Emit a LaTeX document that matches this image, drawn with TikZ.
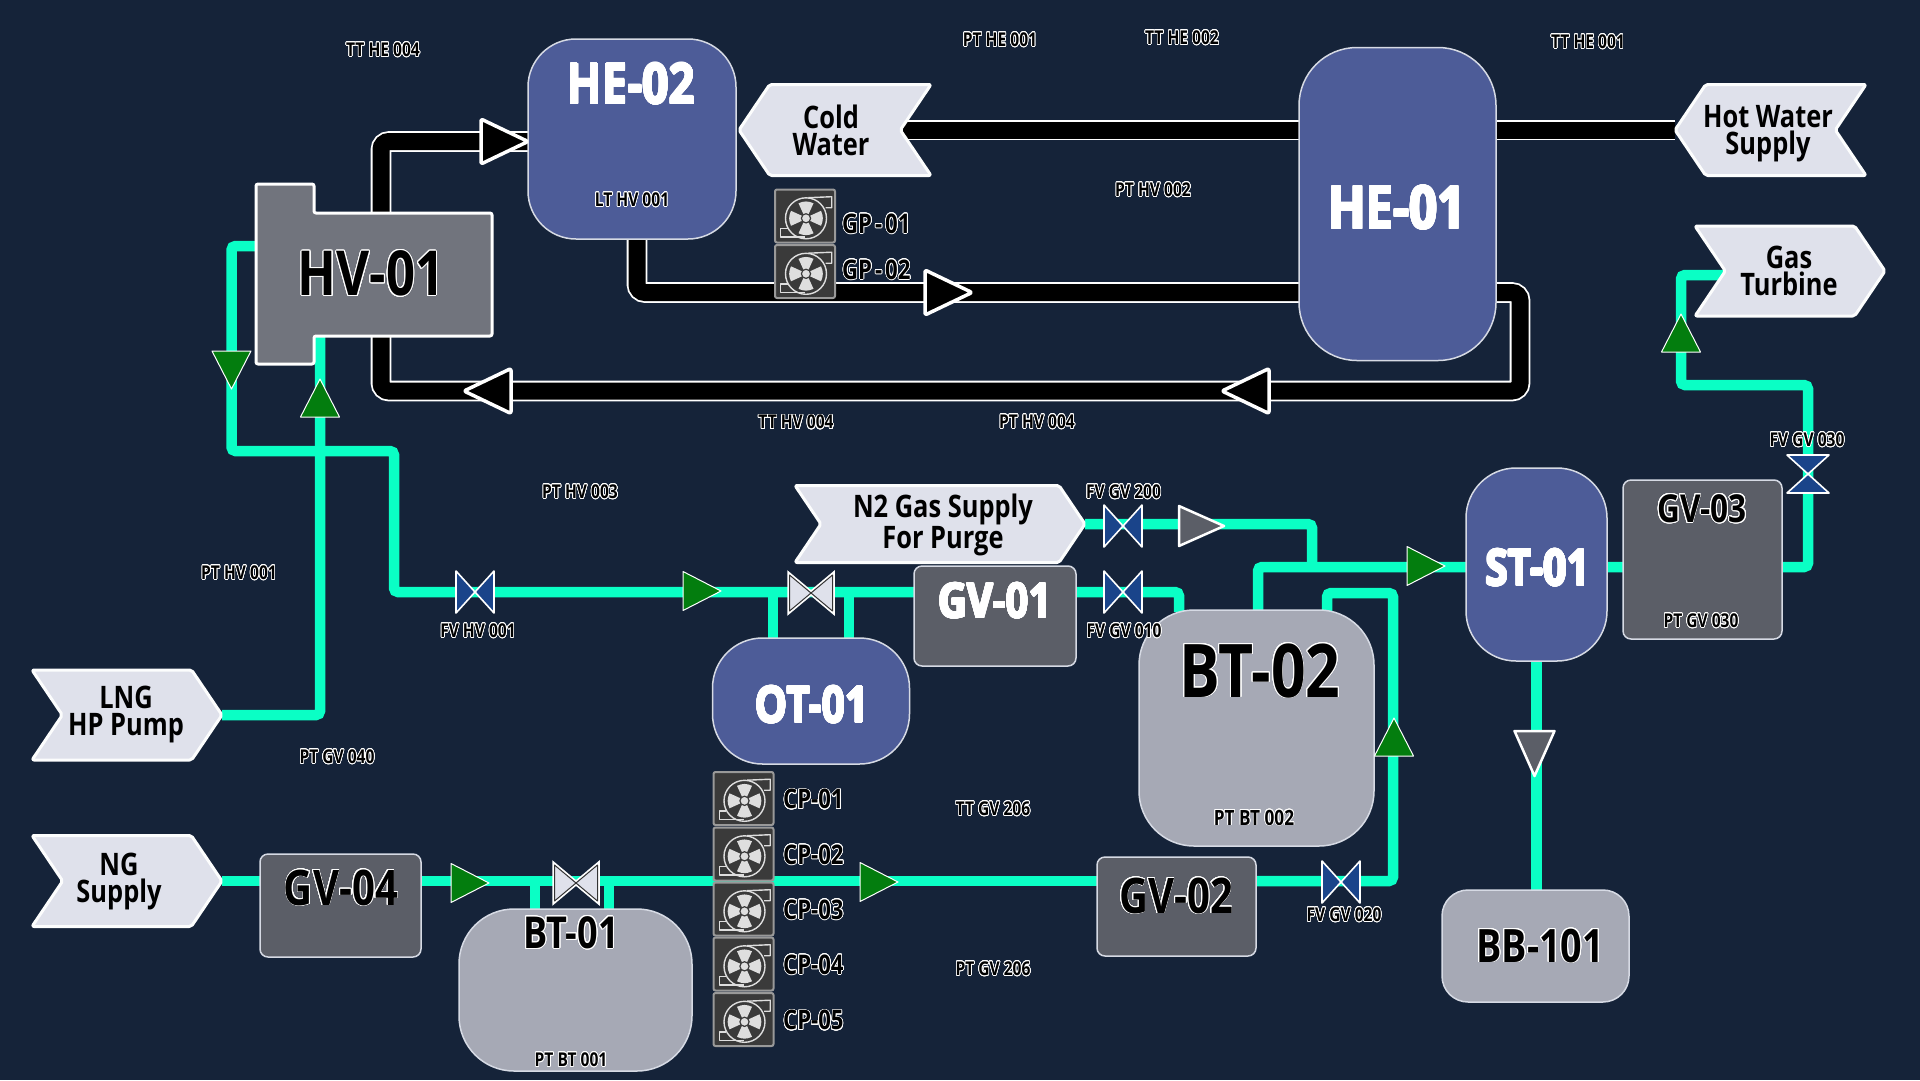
\documentclass[tikz,border=0pt]{standalone}
\usepackage{fontspec}
\setmainfont[FakeStretch=0.82]{Open Sans}
\usepackage{contour}
\contourlength{0.9pt}
\contournumber{24}
\usetikzlibrary{shapes.symbols,positioning,backgrounds}
\definecolor{panel}{RGB}{21,35,57}
\definecolor{vessel}{RGB}{77,92,152}
\definecolor{drum}{RGB}{166,169,181}
\definecolor{slate}{RGB}{91,94,103}
\definecolor{heater}{RGB}{113,116,125}
\definecolor{paper}{RGB}{223,225,235}
\definecolor{gasline}{RGB}{10,255,197}
\definecolor{flowgreen}{RGB}{3,125,14}
\definecolor{valveblue}{RGB}{26,68,138}
\definecolor{edge}{RGB}{214,218,228}
\definecolor{fanbody}{RGB}{58,58,58}
\definecolor{fanline}{RGB}{222,222,222}
\newcommand{\halo}[1]{\contourlength{0.9pt}\contour{white}{#1}}
\newcommand{\thinhalo}[1]{\contourlength{0.7pt}\contour{white}{#1}}
\tikzset{
    tank/.style={draw=edge, line width=1.5pt, rectangle, outer sep=0pt, inner sep=0pt},
    title/.style={font=\bfseries\fontsize{#1}{#1}\selectfont, inner sep=0pt},
    tag/.style={font=\bfseries\fontsize{#1}{#1}\selectfont, inner sep=0pt, text=black},
    tag/.default=19,
    offpage/.style={signal, fill=paper, draw=white!92!paper, line width=3pt, line join=round,
        rounded corners=2pt, inner sep=0pt, outer sep=0pt,
        signal pointer angle=112},
    offtext/.style={align=center, inner sep=0pt, text=black,
        font=\bfseries\fontsize{31}{27}\selectfont},
    waterpipe/.style={draw=white, line width=1.8pt, double=black, double distance=17pt, rounded corners=8pt},
    gaspipe/.style={draw=gasline, line width=10.5pt, rounded corners=4pt},
    fanbox/.style={draw=black!0!gray!80!white, fill=fanbody, line width=2pt, rounded corners=2pt,
        minimum width=60pt, minimum height=53pt, inner sep=0pt, outer sep=0pt},
    pics/fanicon/.style={code={
        \draw[fanline, line width=1.4pt] (1,2.3) circle (20.5);
        \foreach \ang in {0,90,180,270}
            \fill[fanline, shift={(1,2.3)}, rotate=\ang] (-2.5,-4) -- (-7.5,-15) to[bend left=25] (7.5,-15) -- (2.5,-4) -- cycle;
        \filldraw[draw=fanbody, fill=fanline, line width=1.2pt] (1,2.3) circle (4.6);
        \draw[fanline, line width=1.4pt, line join=round] (3.3,-18.3) -- (26.7,-19.3) -- (26.7,-8.3) -- (20.7,-8.3);
        \draw[fanline, line width=1.4pt, line join=round] (0,21) -- (-24.3,21) -- (-24.3,12.3) -- (-17.3,12.3);
    }},
}
\begin{document}
\begin{tikzpicture}[x=1pt,y=-1pt]
    \useasboundingbox (0,0) rectangle (1920,1080);

    % Vessels
    \node[tank, fill=vessel, rounded corners=48pt, minimum width=208pt, minimum height=200pt] (HE02) at (632,139) {};
    \node[tank, fill=vessel, rounded corners=58pt, minimum width=197pt, minimum height=313pt] (HE01) at (1397.5,204) {};
    \node[tank, fill=vessel, rounded corners=50pt, minimum width=141pt, minimum height=193pt] (ST01) at (1536.5,564.5) {};
    \node[tank, fill=vessel, rounded corners=50pt, minimum width=197pt, minimum height=126pt] (OT01) at (811,701) {};
    \node[tank, fill=drum, rounded corners=55pt, minimum width=233pt, minimum height=162pt] (BT01) at (575.5,990) {};
    \node[tank, fill=drum, rounded corners=55pt, minimum width=235pt, minimum height=236pt] (BT02) at (1256.5,728) {};
    \node[tank, fill=drum, rounded corners=26pt, minimum width=187pt, minimum height=112pt] (BB101) at (1535.5,946) {};
    \node[tank, fill=slate, rounded corners=8pt, minimum width=159pt, minimum height=159pt] (GV03) at (1702.5,559.5) {};
    \node[tank, fill=slate, rounded corners=8pt, minimum width=162pt, minimum height=100pt] (GV01) at (995,616) {};
    \node[tank, fill=slate, rounded corners=8pt, minimum width=159pt, minimum height=99pt] (GV02) at (1176.5,906.5) {};
    \node[tank, fill=slate, rounded corners=8pt, minimum width=161pt, minimum height=103pt] (GV04) at (340.5,905.5) {};

    % Heater body
    \filldraw[fill=heater, draw=white, line width=3pt, line join=round, rounded corners=2pt]
        (256,184) -- (314,184) -- (314,213) -- (492,213) -- (492,336) -- (314,336) -- (314,364) -- (256,364) -- cycle;
    \node[title=62, text=black] (HV01) at (371,274) {\halo{HV-01}};

    % Off-page connectors
    \node[offpage, signal to=west, signal from=east, minimum width=192pt, minimum height=91pt] (CW) at (835,130) {};
    \node[offpage, signal to=west, signal from=east, minimum width=191pt, minimum height=91pt] (HW) at (1770.5,130) {};
    \node[offpage, signal to=east, signal from=west, minimum width=190pt, minimum height=90pt] (GT) at (1790,271) {};
    \node[offpage, signal to=east, signal from=west, minimum width=290pt, minimum height=77pt] (N2) at (940,524) {};
    \node[offpage, signal to=east, signal from=west, minimum width=190pt, minimum height=90pt] (LNG) at (127,715) {};
    \node[offpage, signal to=east, signal from=west, minimum width=190pt, minimum height=91pt] (NG) at (127,881) {};
    \node[offtext] (CW-t) at (831,130) {Cold\\Water};
    \node[offtext] (HW-t) at (1768,134) {Hot Water\\Supply};
    \node[offtext] (GT-t) at (1789,271) {Gas\\Turbine};
    \node[offtext] (N2-t) at (943,525) {N2 Gas Supply\\For Purge};
    \node[offtext] (LNG-t) at (126,714) {LNG\\HP Pump};
    \node[offtext] (NG-t) at (119,881.5) {NG\\Supply};

    % Pipe ends
    \coordinate (hvtop) at (381,213);
    \coordinate (hvbot) at (381,336);
    \coordinate (hvout) at (256,246);
    \coordinate (hvin) at (320,336);
    \coordinate (he2w) at (528,141.5);
    \coordinate (he2bot) at (637,239);
    \coordinate (he1w) at (1299,130);
    \coordinate (he1e) at (1496,130);
    \coordinate (he1lo) at (1299,292.5);
    \coordinate (he1ro) at (1496,292.5);
    \coordinate (retbend) at (1520,391);
    \coordinate (gasa) at (231.5,451);
    \coordinate (gasb) at (394,592);
    \coordinate (gv1w) at (914,592);
    \coordinate (gv1e) at (1076,592);
    \coordinate (bt2a) at (1179,612);
    \coordinate (bt2b) at (1258,612);
    \coordinate (bt2c) at (1327,612);
    \coordinate (otl) at (773,592);
    \coordinate (otr) at (849,592);
    \coordinate (btl) at (535,881);
    \coordinate (btr) at (609,881);
    \coordinate (stin) at (1466,567);
    \coordinate (stout) at (1607,567);
    \coordinate (njoin) at (1312,567);
    \coordinate (gv2e) at (1256,881);
    \coordinate (c7a) at (1393,593);
    \coordinate (c8a) at (1808,385);
    \coordinate (gtjog) at (1681,275);

    % Pipes
    \begin{scope}[on background layer]
        \fill[panel] (0,0) rectangle (1920,1080);
        \draw[waterpipe] (hvtop) |- (he2w);
        \draw[waterpipe] (he2bot) |- (he1lo);
        \draw[waterpipe] (he1ro) -| (retbend) -| (hvbot);
        \draw[waterpipe] (CW) -- (he1w);
        \draw[waterpipe] (he1e) -- (HW);
        \draw[gaspipe] (LNG) -| (hvin);
        \draw[gaspipe] (hvout) -| (gasa) -| (gasb) -- (gv1w);
        \draw[gaspipe] (otl) -- (otl |- OT01.north);
        \draw[gaspipe] (otr) -- (otr |- OT01.north);
        \draw[gaspipe] (gv1e) -| (bt2a);
        \draw[gaspipe] (N2) -| (njoin);
        \draw[gaspipe] (bt2b) |- (stin);
        \draw[gaspipe] (stout) -| (c8a) -| (gtjog) -- (gtjog -| GT);
        \draw[gaspipe] (NG) -- (NG -| GV02);
        \draw[gaspipe] (btl) -- (btl |- BT01.north);
        \draw[gaspipe] (btr) -- (btr |- BT01.north);
        \draw[gaspipe] (gv2e) -| (c7a) -| (bt2c);
        \draw[gaspipe] (ST01.south) -- (ST01.south |- BB101.north);
    \end{scope}

    % Flow arrows
    \foreach \px/\py/\rot in {481/141.5/0, 925/292.5/0, 1269/391/180, 511/391/180}
        \filldraw[fill=black, draw=white, line width=3.5pt, line join=round, rounded corners=2pt, shift={(\px,\py)}, rotate=\rot]
            (0,-22.5) -- (47,0) -- (0,22.5) -- cycle;
    \foreach \px/\py/\rot in {683/591/0, 451/883/0, 860/882/0, 1407/566/0, 231.5/351/-90, 320/417/90, 1681/352/90, 1394/756/90}
        \filldraw[fill=flowgreen, draw=white, line width=1pt, line join=round, shift={(\px,\py)}, rotate=\rot]
            (0,-19.5) -- (38,0) -- (0,19.5) -- cycle;
    \foreach \px/\py/\rot in {1179/526/0, 1534.5/731/-90}
        \filldraw[fill=slate, draw=white, line width=2.5pt, line join=round, shift={(\px,\py)}, rotate=\rot]
            (0,-20) -- (45,0) -- (0,20) -- cycle;

    % Valves
    \foreach \px/\py/\rot in {475/592/0, 1123/526/0, 1123/592/0, 1341/882/0, 1808/474/90}
        \filldraw[fill=valveblue, draw=white, line width=1.6pt, line join=round, shift={(\px,\py)}, rotate=\rot]
            (-19,-21) -- (19,21) -- (19,-21) -- (-19,21) -- cycle;
    \foreach \px/\py in {811/593, 576/883}
        \filldraw[fill=paper, draw=black!80, line width=1pt, line join=round, shift={(\px,\py)},
            preaction={draw=white, line width=4.5pt}]
            (-21.5,-18) -- (21.5,18) -- (21.5,-18) -- (-21.5,18) -- cycle;

    % Fans
    \foreach \fan/\fy in {CP-01/798.5, CP-02/854, CP-03/909, CP-04/964, CP-05/1019.5} {
        \node[fanbox] (\fan) at (743.5,\fy) {};
        \pic at (\fan) {fanicon};
        \node[tag=27, anchor=west] (\fan-name) at (783,\fy+1) {\thinhalo{\fan}};
    }
    \node[fanbox] (GP1) at (805,216) {};
    \pic at (GP1) {fanicon};
    \node[fanbox] (GP2) at (805,271.5) {};
    \pic at (GP2) {fanicon};
    \node[tag=27, anchor=west] (GP1-name) at (842,224) {\thinhalo{GP\kern3pt-\kern3pt01}};
    \node[tag=27, anchor=west] (GP2-name) at (842,270) {\thinhalo{GP\kern3pt-\kern3pt02}};

    % Titles
    \node[title=56, text=white] (HE02-t) at (631,84) {\thinhalo{HE-02}};
    \node[title=60, text=white] (HE01-t) at (1397,208) {\thinhalo{HE-01}};
    \node[title=50, text=white] (ST01-t) at (1538,568) {\thinhalo{ST-01}};
    \node[title=50, text=white] (OT01-t) at (812,705) {\thinhalo{OT-01}};
    \node[title=48.5, text=white] (GV01-t) at (995,601) {\thinhalo{GV-01}};
    \node[title=38.5, text=black] (GV03-t) at (1702,509) {\halo{GV-03}};
    \node[title=49, text=black] (GV02-t) at (1176,896) {\halo{GV-02}};
    \node[title=49, text=black] (GV04-t) at (341,888) {\halo{GV-04}};
    \node[title=44, text=black] (BT01-t) at (571,933) {\halo{BT-01}};
    \node[title=74, text=black] (BT02-t) at (1260,671) {\halo{BT-02}};
    \node[title=46, text=black] (BB101-t) at (1540,946) {\halo{BB-101}};

    % Instrument tags
    \foreach \tx/\ty/\txt in {383/50/TT HE 004, 1000/40/PT HE 001, 1182/38/TT HE 002, 1588/42/TT HE 001,
            1153/190/PT HV 002, 796/422.5/TT HV 004, 1037/422/PT HV 004, 580/492/PT HV 003,
            239/573/PT HV 001, 478/631/FV HV 001, 337/757/PT GV 040, 1123.5/492/FV GV 200,
            1124/631/FV GV 010, 1807/440/FV GV 030, 1344/915/FV GV 020, 1701/621/PT GV 030,
            993/809/TT GV 206, 993/969/PT GV 206, 632/200/LT HV 001, 571/1060/PT BT 001}
        \node[tag] at (\tx,\ty) {\thinhalo{\txt}};
    \node[tag=21] (PTBT2) at (1254,818) {\thinhalo{PT BT 002}};
\end{tikzpicture}
\end{document}
